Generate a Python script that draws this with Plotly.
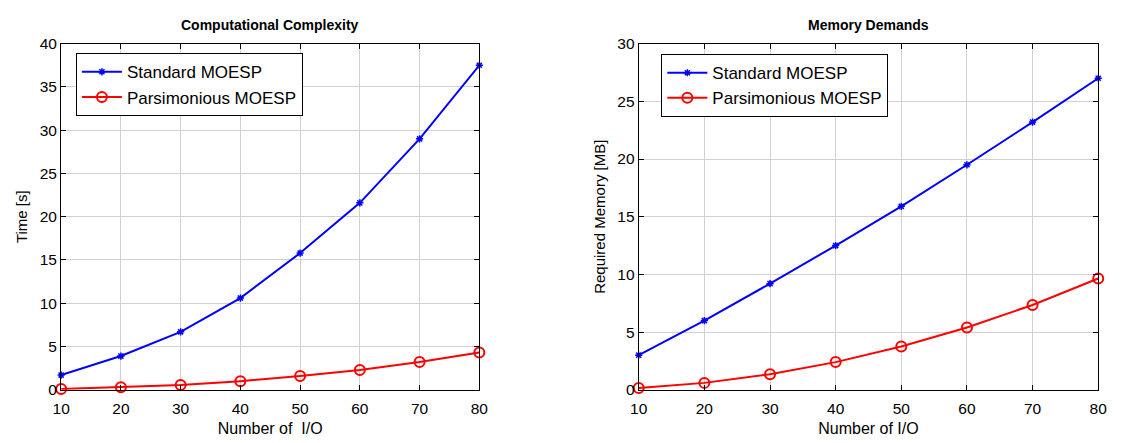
import plotly.graph_objects as go

io_counts = [10, 20, 30, 40, 50, 60, 70, 80]
time_standard = [1.7, 3.9, 6.7, 10.6, 15.8, 21.6, 29.0, 37.5]
time_parsimonious = [0.1, 0.3, 0.55, 1.0, 1.6, 2.3, 3.2, 4.3]
mem_standard = [3.0, 6.0, 9.2, 12.5, 15.9, 19.5, 23.2, 27.0]
mem_parsimonious = [0.15, 0.6, 1.35, 2.4, 3.75, 5.4, 7.35, 9.65]

FONT = "Liberation Sans, Arial, sans-serif"
BLUE = "#0000ff"
RED = "#ff0000"

fig = go.Figure()

def add_pair(ys, yp, xa, ya, leg):
    fig.add_trace(go.Scatter(
        x=io_counts, y=ys, mode="lines+markers", name="Standard MOESP",
        line=dict(color=BLUE, width=2),
        marker=dict(symbol="asterisk-open", size=6, color=BLUE, line=dict(color=BLUE, width=1.5)),
        xaxis=xa, yaxis=ya, legend=leg, cliponaxis=False))
    fig.add_trace(go.Scatter(
        x=io_counts, y=yp, mode="lines+markers", name="Parsimonious MOESP",
        line=dict(color=RED, width=2),
        marker=dict(symbol="circle-open", size=10, color=RED, line=dict(color=RED, width=2)),
        xaxis=xa, yaxis=ya, legend=leg, cliponaxis=False))

add_pair(time_standard, time_parsimonious, "x", "y", "legend")
add_pair(mem_standard, mem_parsimonious, "x2", "y2", "legend2")

axis_common = dict(
    showline=True, linecolor="black", linewidth=1.2, mirror="ticks",
    ticks="inside", ticklen=5, tickcolor="black",
    showgrid=True, gridcolor="#d0d0d0", gridwidth=1,
    zeroline=False, tickfont=dict(family=FONT, size=15.5, color="black"),
)

W, H = 1121, 443
def dx(a, b):
    return [a / W, b / W]
ydom = [1 - 396 / H, 1 - 36 / H]

legend_common = dict(
    xanchor="left", yanchor="top",
    bgcolor="white", bordercolor="black", borderwidth=1,
    font=dict(family=FONT, size=17, color="black"),
    itemwidth=40, tracegroupgap=0,
)

fig.update_layout(
    width=W, height=H,
    margin=dict(l=0, r=0, t=0, b=0),
    paper_bgcolor="white", plot_bgcolor="white",
    font=dict(family=FONT, color="black"),
    xaxis=dict(domain=dx(53, 478), range=[10, 80], tickvals=io_counts, anchor="y",
               ticklabelstandoff=4,
               title=dict(text="Number of  I/O", font=dict(size=16), standoff=7), **axis_common),
    yaxis=dict(domain=ydom, range=[0, 40], dtick=5, anchor="x",
               title=dict(text="Time [s]", font=dict(size=15), standoff=8), **axis_common),
    xaxis2=dict(domain=dx(640, 1107), range=[10, 80], tickvals=io_counts, anchor="y2",
                ticklabelstandoff=4,
                title=dict(text="Number of I/O", font=dict(size=16), standoff=7), **axis_common),
    yaxis2=dict(domain=ydom, range=[0, 30], dtick=5, anchor="x2",
                title=dict(text="Required Memory [MB]", font=dict(size=15), standoff=8), **axis_common),
    legend=dict(x=68 / W, y=1 - 46 / H, **legend_common),
    legend2=dict(x=663 / W, y=1 - 47 / H, **legend_common),
    annotations=[
        dict(text="<b>Computational Complexity</b>", x=(53 + 478) / 2 / W, y=1 - 17 / H,
             xref="paper", yref="paper", showarrow=False, font=dict(size=14, family=FONT),
             xanchor="center", yanchor="middle"),
        dict(text="<b>Memory Demands</b>", x=(640 + 1107) / 2 / W, y=1 - 17 / H,
             xref="paper", yref="paper", showarrow=False, font=dict(size=14, family=FONT),
             xanchor="center", yanchor="middle"),
    ],
)

fig.write_html("out.html")
